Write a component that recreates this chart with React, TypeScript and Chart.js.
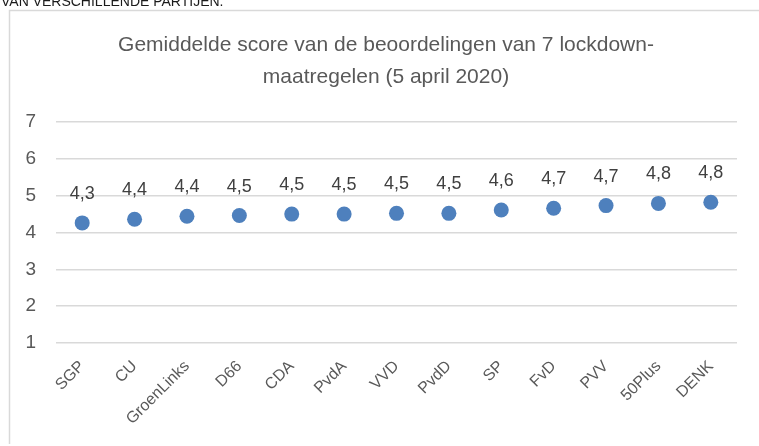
import React, { useEffect, useRef } from "react";
import { Chart, registerables } from "chart.js";

Chart.register(...registerables);

const parties = ["SGP", "CU", "GroenLinks", "D66", "CDA", "PvdA", "VVD", "PvdD", "SP", "FvD", "PVV", "50Plus", "DENK"];
const scores = [4.26, 4.36, 4.44, 4.46, 4.5, 4.5, 4.52, 4.52, 4.61, 4.66, 4.73, 4.79, 4.82];
const titleLines = ["Gemiddelde score van de beoordelingen van 7 lockdown-", "maatregelen (5 april 2020)"];
const headerText = "VAN VERSCHILLENDE PARTIJEN.";
const yMin = 1;
const yMax = 7;

const FONT = "'Liberation Sans', Arial, sans-serif";

const decorPlugin = {
  id: "decor",
  beforeDraw(chart: any) {
    const ctx = chart.ctx;
    ctx.save();
    ctx.fillStyle = "#ffffff";
    ctx.fillRect(0, 0, chart.width, chart.height);
    // frame
    ctx.strokeStyle = "#d9d9d9";
    ctx.lineWidth = 1.5;
    ctx.beginPath();
    ctx.moveTo(9.5, 444);
    ctx.lineTo(9.5, 10.5);
    ctx.lineTo(759, 10.5);
    ctx.stroke();
    // header text (cut off)
    ctx.fillStyle = "#1a1a1a";
    ctx.font = `14px ${FONT}`;
    ctx.textAlign = "left";
    ctx.textBaseline = "alphabetic";
    ctx.fillText(headerText, 1, 6);
    // title
    ctx.fillStyle = "#595959";
    ctx.font = `21px ${FONT}`;
    ctx.textAlign = "center";
    ctx.fillText(titleLines[0], 386, 51);
    ctx.fillText(titleLines[1], 386, 83);
    ctx.restore();
  },
  afterDatasetsDraw(chart: any) {
    const ctx = chart.ctx;
    const meta = chart.getDatasetMeta(0);
    ctx.save();
    ctx.fillStyle = "#404040";
    ctx.font = `18px ${FONT}`;
    ctx.textAlign = "center";
    ctx.textBaseline = "alphabetic";
    meta.data.forEach((pt: any, i: number) => {
      const v = chart.data.datasets[0].data[i] as number;
      const txt = (Math.round(v * 10) / 10).toFixed(1).replace(".", ",");
      ctx.fillText(txt, pt.x, pt.y - 24);
    });
    ctx.restore();
  },
};

export default function App() {
  const ref = useRef<HTMLCanvasElement | null>(null);
  useEffect(() => {
    if (!ref.current) return;
    const chart = new Chart(ref.current, {
      type: "line",
      data: {
        labels: parties,
        datasets: [
          {
            data: scores,
            showLine: false,
            pointRadius: 7.5,
            pointHoverRadius: 7.5,
            pointBackgroundColor: "#4e80bd",
            pointBorderColor: "#4e80bd",
            pointBorderWidth: 0,
          },
        ],
      },
      options: {
        responsive: false,
        animation: false,
        layout: { padding: { top: 122, left: 0, right: 22, bottom: 0 } },
        plugins: {
          legend: { display: false },
          title: { display: false },
          tooltip: { enabled: false },
        },
        scales: {
          x: {
            offset: true,
            grid: { display: false, drawTicks: false },
            border: { display: false },
            ticks: {
              color: "#595959",
              font: { family: FONT, size: 16 },
              maxRotation: 45,
              minRotation: 45,
              padding: 14,
              autoSkip: false,
            },
            afterFit: (scale: any) => {
              scale.height = 103;
            },
          },
          y: {
            min: yMin,
            max: yMax,
            grid: { color: "#d9d9d9", lineWidth: 1.5, drawTicks: false },
            border: { display: false },
            ticks: {
              stepSize: 1,
              color: "#595959",
              font: { family: FONT, size: 19 },
              padding: 20,
            },
            afterFit: (scale: any) => {
              scale.width = 56;
            },
          },
        },
      },
      plugins: [decorPlugin],
    });
    return () => chart.destroy();
  }, []);
  return (
    <div style={{ position: "absolute", left: 0, top: 0, width: 759, height: 446 }}>
      <canvas ref={ref} width={759} height={446} style={{ display: "block" }} />
    </div>
  );
}
